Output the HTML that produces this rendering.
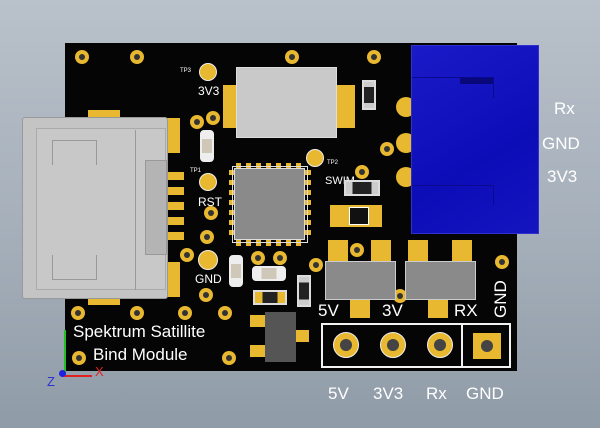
<!DOCTYPE html><html><head><style>
body{margin:0;width:600px;height:428px;overflow:hidden;background:linear-gradient(180deg,#b9c1ca 0%,#a3adb8 60%,#8f9ba7 100%);font-family:"Liberation Sans",sans-serif;position:relative}
div{position:absolute;box-sizing:border-box}
.v{width:14px;height:14px;border-radius:50%;background:#e8b830;margin:-7px 0 0 -7px}
.v:after{content:"";position:absolute;left:4px;top:4px;width:6px;height:6px;border-radius:50%;background:#333}
.tp{border-radius:50%;background:#e8b830;border:1.5px solid #eee}
.g{background:#e8b830}
.t{color:#fff;white-space:nowrap}
.lbl{color:#fff;font-size:17px;white-space:nowrap}
.ph{background:repeating-linear-gradient(90deg,#e8b830 0 5px,transparent 5px 10px)}
.pv{background:repeating-linear-gradient(180deg,#e8b830 0 5px,transparent 5px 10px)}
</style></head><body>
<div style="left:65px;top:43px;width:452px;height:328px;background:#050505"></div>
<!-- vias -->
<div class="v" style="left:82px;top:57px"></div><div class="v" style="left:137px;top:57px"></div>
<div class="v" style="left:292px;top:57px"></div><div class="v" style="left:374px;top:57px"></div>
<div class="v" style="left:78px;top:313px"></div><div class="v" style="left:137px;top:313px"></div>
<div class="v" style="left:185px;top:313px"></div><div class="v" style="left:225px;top:313px"></div>
<div class="v" style="left:79px;top:358px"></div><div class="v" style="left:229px;top:358px"></div>
<div class="v" style="left:187px;top:255px"></div><div class="v" style="left:206px;top:295px"></div>
<div class="v" style="left:211px;top:213px"></div><div class="v" style="left:207px;top:237px"></div>
<div class="v" style="left:197px;top:122px"></div><div class="v" style="left:213px;top:118px"></div>
<div class="v" style="left:258px;top:258px"></div><div class="v" style="left:280px;top:258px"></div>
<div class="v" style="left:387px;top:149px"></div><div class="v" style="left:362px;top:172px"></div>
<div class="v" style="left:357px;top:250px"></div><div class="v" style="left:316px;top:265px"></div>
<div class="v" style="left:400px;top:296px"></div><div class="v" style="left:502px;top:262px"></div>
<div class="g" style="left:396px;top:97px;width:20px;height:20px;border-radius:50%"></div>
<div class="g" style="left:396px;top:133px;width:20px;height:20px;border-radius:50%"></div>
<div class="g" style="left:396px;top:167px;width:20px;height:20px;border-radius:50%"></div>
<!-- test points -->
<div class="tp" style="left:199px;top:63px;width:18px;height:18px"></div>
<div class="tp" style="left:199px;top:173px;width:18px;height:18px"></div>
<div class="tp" style="left:198px;top:250px;width:20px;height:20px"></div>
<div class="tp" style="left:306px;top:149px;width:18px;height:18px"></div>
<div class="t" style="left:180px;top:68px;font-size:6px">TP3</div>
<div class="t" style="left:190px;top:168px;font-size:6px">TP1</div>
<div class="t" style="left:327px;top:160px;font-size:6px">TP2</div>
<div class="t" style="left:198px;top:84px;font-size:12px">3V3</div>
<div class="t" style="left:198px;top:195px;font-size:12px">RST</div>
<div class="t" style="left:195px;top:272px;font-size:12px">GND</div>
<div class="t" style="left:325px;top:175px;font-size:11px">SWIM</div>
<!-- USB pads -->
<div class="g" style="left:88px;top:110px;width:32px;height:12px"></div>
<div class="g" style="left:145px;top:118px;width:35px;height:35px"></div>
<div class="g" style="left:88px;top:293px;width:32px;height:12px"></div>
<div class="g" style="left:145px;top:262px;width:35px;height:35px"></div>
<div class="g" style="left:165px;top:172px;width:19px;height:8px"></div>
<div class="g" style="left:165px;top:187px;width:19px;height:8px"></div>
<div class="g" style="left:165px;top:202px;width:19px;height:8px"></div>
<div class="g" style="left:165px;top:217px;width:19px;height:8px"></div>
<div class="g" style="left:165px;top:232px;width:19px;height:8px"></div>
<!-- USB connector -->
<div style="left:22px;top:117px;width:146px;height:182px;background:#c4c4c4;border:1px solid #999;border-radius:3px"></div>
<div style="left:36px;top:128px;width:130px;height:162px;background:#c8c8c8;border:1px solid #aaa"></div>
<div style="left:52px;top:140px;width:45px;height:25px;border:1px solid #999;border-bottom:none"></div>
<div style="left:52px;top:255px;width:45px;height:25px;border:1px solid #999;border-top:none"></div>
<div style="left:135px;top:130px;width:30px;height:160px;border-left:1px solid #999"></div>
<div style="left:145px;top:160px;width:22px;height:95px;background:#b4b4b4;border:1px solid #999"></div>
<!-- crystal -->
<div class="g" style="left:223px;top:85px;width:14px;height:43px"></div>
<div class="g" style="left:337px;top:85px;width:18px;height:43px"></div>
<div style="left:236px;top:67px;width:101px;height:71px;background:#c9c9c9;border:1px solid #ddd"></div>
<!-- caps -->
<div style="left:200px;top:130px;width:14px;height:32px;background:linear-gradient(180deg,#eee 25%,#cfc8b8 25% 75%,#eee 75%);border:2px solid #eee;border-radius:4px"></div>
<div style="left:229px;top:255px;width:14px;height:32px;background:linear-gradient(180deg,#eee 25%,#cfc8b8 25% 75%,#eee 75%);border:2px solid #eee;border-radius:4px"></div>
<div style="left:252px;top:266px;width:34px;height:15px;background:linear-gradient(90deg,#eee 25%,#cfc8b8 25% 75%,#eee 75%);border:2px solid #eee;border-radius:4px"></div>
<div style="left:253px;top:290px;width:34px;height:15px;background:linear-gradient(90deg,#e8b830 25%,#222 25% 75%,#e8b830 75%);border:2px solid #ddd"></div>
<div style="left:297px;top:275px;width:14px;height:32px;background:linear-gradient(180deg,#ccc 20%,#222 20% 80%,#ccc 80%);border:2px solid #ddd"></div>
<div style="left:362px;top:80px;width:14px;height:30px;background:linear-gradient(180deg,#ccc 20%,#222 20% 80%,#ccc 80%);border:2px solid #ddd"></div>
<div style="left:344px;top:180px;width:36px;height:16px;background:linear-gradient(90deg,#ccc 20%,#222 20% 80%,#ccc 80%);border:2px solid #ddd"></div>
<div class="g" style="left:330px;top:205px;width:52px;height:22px"></div>
<div style="left:349px;top:207px;width:20px;height:18px;background:#111;border:1px solid #fff"></div>
<!-- MCU -->
<div class="ph" style="left:236px;top:163px;width:68px;height:6px"></div>
<div class="ph" style="left:236px;top:240px;width:68px;height:6px"></div>
<div class="pv" style="left:229px;top:170px;width:6px;height:70px"></div>
<div class="pv" style="left:305px;top:170px;width:6px;height:70px"></div>
<div style="left:232px;top:166px;width:76px;height:77px;border:1px solid #ddd"></div>
<div style="left:234px;top:168px;width:71px;height:72px;background:#8a8a8a;border:1px solid #ddd"></div>
<!-- regulators -->
<div class="g" style="left:328px;top:240px;width:20px;height:22px"></div>
<div class="g" style="left:371px;top:240px;width:20px;height:22px"></div>
<div class="g" style="left:408px;top:240px;width:20px;height:22px"></div>
<div class="g" style="left:452px;top:240px;width:20px;height:22px"></div>
<div class="g" style="left:350px;top:298px;width:20px;height:20px"></div>
<div class="g" style="left:428px;top:298px;width:20px;height:20px"></div>
<div style="left:325px;top:261px;width:71px;height:39px;background:#8a8a8a;border:1px solid #ccc"></div>
<div style="left:405px;top:261px;width:71px;height:39px;background:#8a8a8a;border:1px solid #ccc"></div>
<!-- SOT -->
<div class="g" style="left:250px;top:315px;width:15px;height:12px"></div>
<div class="g" style="left:250px;top:345px;width:15px;height:12px"></div>
<div class="g" style="left:295px;top:330px;width:14px;height:12px"></div>
<div style="left:265px;top:312px;width:31px;height:50px;background:#555"></div>
<!-- blue connector -->
<div style="left:411px;top:45px;width:128px;height:189px;background:linear-gradient(150deg,#1a1ac8,#0d0db8 60%,#1515c0);border:1px solid #3030d0"></div>
<div style="left:412px;top:77px;width:82px;height:1px;background:#0a0a90"></div>
<div style="left:460px;top:78px;width:34px;height:6px;background:#08087a"></div>
<div style="left:412px;top:185px;width:82px;height:1px;background:#0a0a90"></div>
<div style="left:493px;top:185px;width:1px;height:20px;background:#0a0a90"></div>
<div style="left:493px;top:78px;width:1px;height:20px;background:#0a0a90"></div>
<!-- header -->
<div style="left:321px;top:323px;width:190px;height:45px;border:2px solid #f2f2f2"></div>
<div style="left:461px;top:323px;width:2px;height:45px;background:#f2f2f2"></div>
<div style="left:333px;top:332px;width:26px;height:26px;border-radius:50%;background:#e8b830;border:1.5px solid #eee"></div>
<div style="left:380px;top:332px;width:26px;height:26px;border-radius:50%;background:#e8b830;border:1.5px solid #eee"></div>
<div style="left:427px;top:332px;width:26px;height:26px;border-radius:50%;background:#e8b830;border:1.5px solid #eee"></div>
<div style="left:340px;top:339px;width:12px;height:12px;border-radius:50%;background:#444"></div>
<div style="left:387px;top:339px;width:12px;height:12px;border-radius:50%;background:#444"></div>
<div style="left:434px;top:339px;width:12px;height:12px;border-radius:50%;background:#444"></div>
<div class="g" style="left:473px;top:333px;width:28px;height:26px"></div>
<div style="left:481px;top:340px;width:12px;height:12px;border-radius:50%;background:#444"></div>
<!-- board labels -->
<div class="t" style="left:318px;top:301px;font-size:17px">5V</div>
<div class="t" style="left:382px;top:301px;font-size:17px">3V</div>
<div class="t" style="left:454px;top:301px;font-size:17px">RX</div>
<div class="t" style="left:491px;top:318px;font-size:17px;transform:rotate(-90deg);transform-origin:0 0">GND</div>
<div class="t" style="left:73px;top:322px;font-size:17px">Spektrum Satillite</div>
<div class="t" style="left:93px;top:345px;font-size:17px">Bind Module</div>
<!-- axes -->
<div style="left:64px;top:330px;width:2px;height:45px;background:#22c022"></div>
<div style="left:62px;top:375px;width:30px;height:2px;background:#e02020"></div>
<div style="left:59px;top:370px;width:7px;height:7px;border-radius:50%;background:#2020e0"></div>
<div style="left:95px;top:364px;color:#e02020;font-size:13px">X</div>
<div style="left:47px;top:374px;color:#3030d0;font-size:13px">Z</div>
<!-- outside labels -->
<div class="lbl" style="left:554px;top:99px">Rx</div>
<div class="lbl" style="left:542px;top:134px">GND</div>
<div class="lbl" style="left:547px;top:167px">3V3</div>
<div class="lbl" style="left:328px;top:384px">5V</div>
<div class="lbl" style="left:373px;top:384px">3V3</div>
<div class="lbl" style="left:426px;top:384px">Rx</div>
<div class="lbl" style="left:466px;top:384px">GND</div>
</body></html>
